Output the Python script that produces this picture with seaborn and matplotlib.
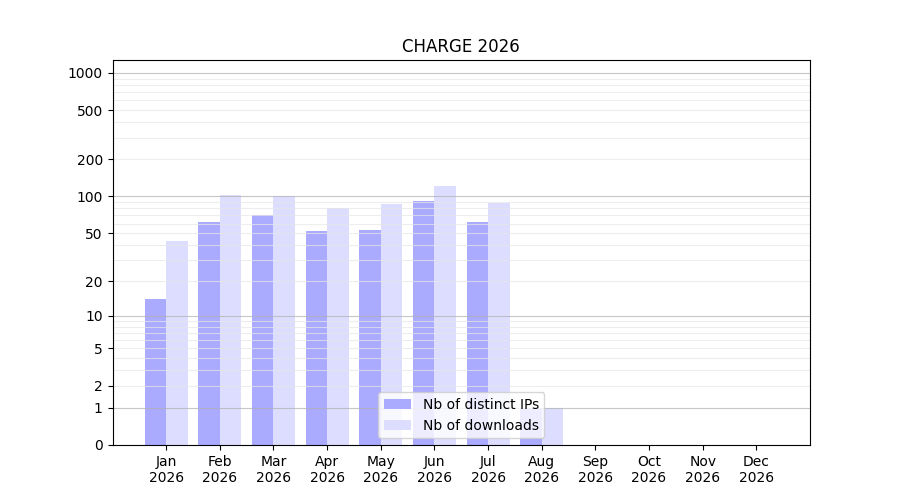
import matplotlib
matplotlib.use("Agg")
import matplotlib.pyplot as plt
import seaborn as sns
import pandas as pd
import numpy as np
from matplotlib.ticker import NullLocator


months = ["Jan", "Feb", "Mar", "Apr", "May", "Jun",
          "Jul", "Aug", "Sep", "Oct", "Nov", "Dec"]
year = "2026"
distinct_ips = [14, 62, 71, 52, 53, 91, 62, 1, 0, 0, 0, 0]
downloads = [43, 103, 101, 80, 86, 121, 89, 1, 0, 0, 0, 0]
series_names = ["Nb of distinct IPs", "Nb of downloads"]
ytick_values = [0, 1, 2, 5, 10, 20, 50, 100, 200, 500, 1000]


labels = [m + "\n" + year for m in months]
df = pd.DataFrame({
    "month": labels * 2,
    "value": distinct_ips + downloads,
    "series": [series_names[0]] * len(months) + [series_names[1]] * len(months),
})

fig, ax = plt.subplots(figsize=(9, 5), dpi=100)

sns.barplot(data=df, x="month", y="value", hue="series", hue_order=series_names,
            palette=["#aaaaff", "#ddddff"], errorbar=None, width=0.8,
            saturation=1, linewidth=0, ax=ax)

# log(x+1) scale so zero months still sit on the axis
ax.set_yscale("function", functions=(lambda v: np.log10(np.maximum(v, 0) + 1),
                                     lambda v: 10 ** v - 1))
ax.set_ylim(0, 1270)
ax.set_xlim(-1, 12)

# grid: light lines at 2..9 of each decade, darker at the decades
# (above the bars but under the spines)
for dec in [1, 10, 100, 1000]:
    for k in range(2, 10):
        ax.axhline(dec * k, color="#e6e6e6", lw=0.8, zorder=2, alpha=0.7)
    ax.axhline(dec, color="#b0b0b0", lw=0.8, zorder=2, alpha=0.7)

ax.set_yticks(ytick_values)
ax.set_yticklabels([str(v) for v in ytick_values])
ax.yaxis.set_minor_locator(NullLocator())

ax.set_xlabel("")
ax.set_ylabel("")
ax.set_title("CHARGE 2026")
ax.legend(loc="lower center", title=None)

fig.savefig("out.png", dpi=100)
